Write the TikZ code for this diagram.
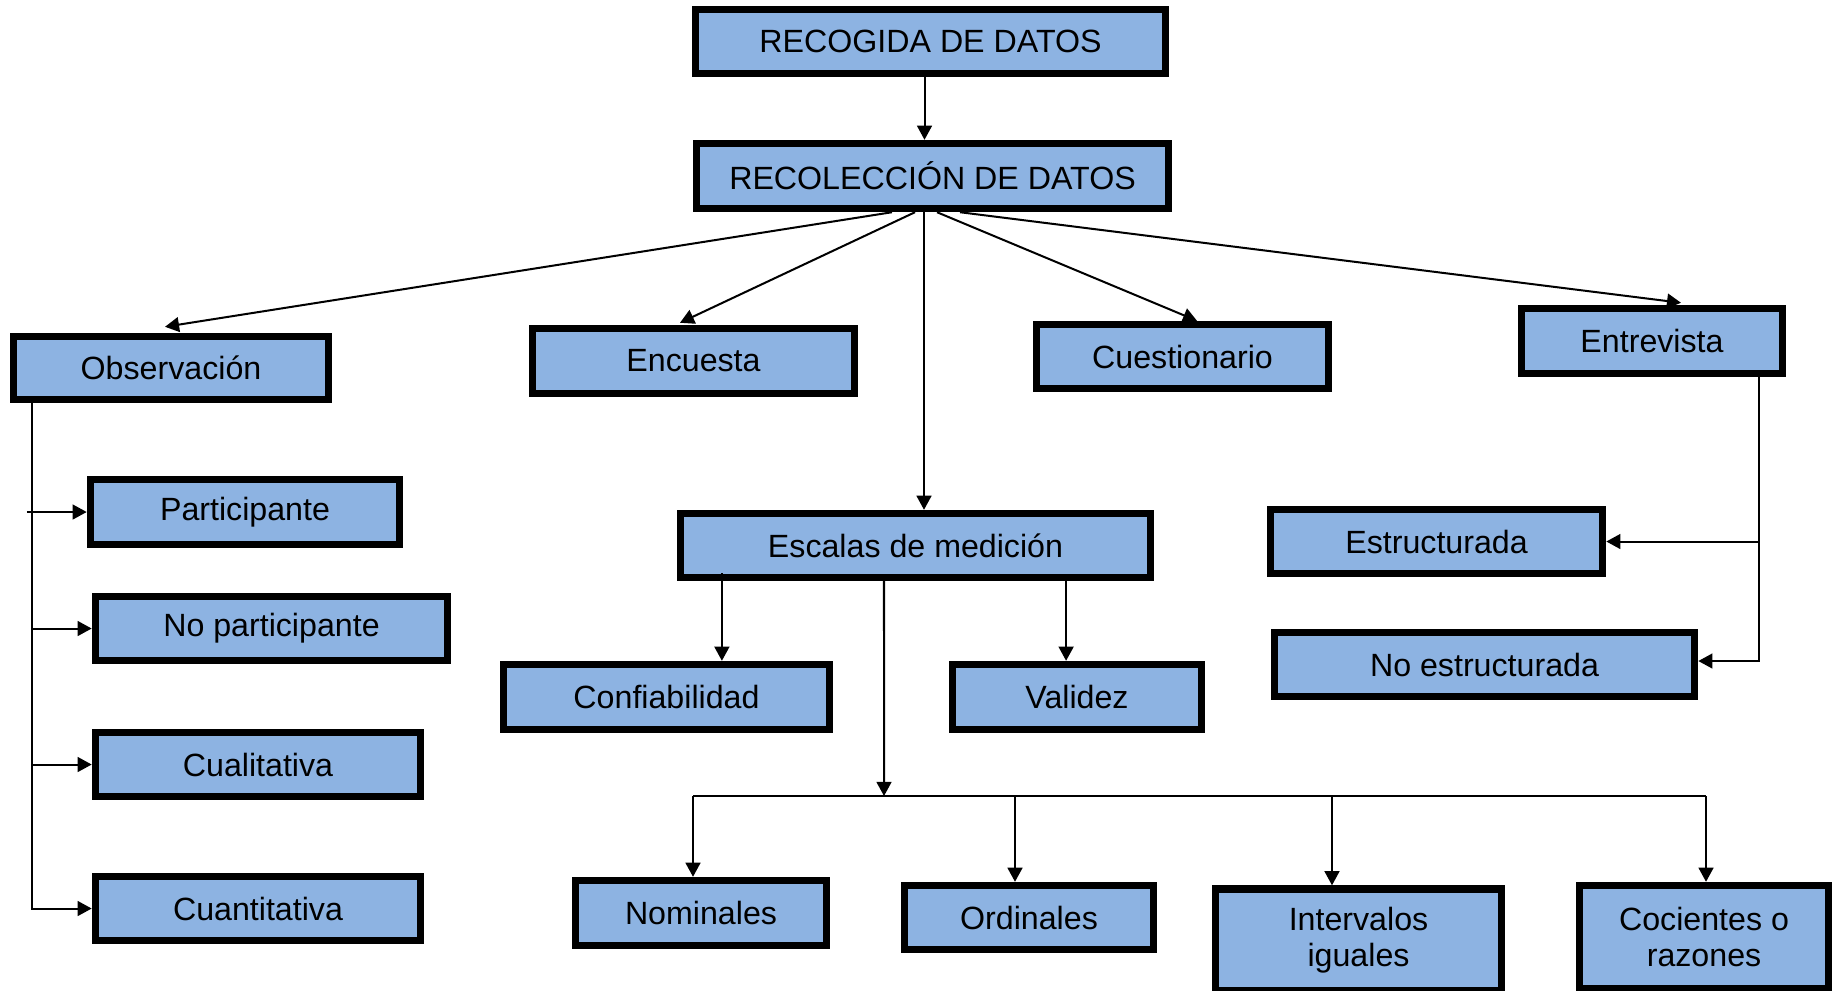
\documentclass[tikz,border=0pt]{standalone}
\usepackage{fontspec}
\setmainfont{Liberation Sans}
\usetikzlibrary{arrows.meta}
\definecolor{boxblue}{RGB}{141,179,226}
\tikzset{
  caja/.style={rectangle, draw=black, line width=2.1pt, fill=boxblue, inner sep=0pt,
    align=center, font=\fontsize{9.15}{10.4}\selectfont},
  flecha/.style={line width=0.57pt, -{Triangle[length=4pt,width=4.2pt]}},
  linea/.style={line width=0.45pt}
}
\begin{document}
\begin{tikzpicture}[x=0.01cm,y=-0.01cm]
\useasboundingbox (0,0) rectangle (1834,990);
% top
\node[caja, minimum width=4.70cm, minimum height=0.64cm] (recogida) at (930.5,41.5){RECOGIDA DE DATOS};
\node[caja, minimum width=4.72cm, minimum height=0.65cm] (recolec) at (932.5,176){RECOLECCIÓN DE DATOS};
% second row
\node[caja, minimum width=3.15cm, minimum height=0.63cm] (obs) at (171,368){Observación};
\node[caja, minimum width=3.22cm, minimum height=0.65cm] (encuesta) at (693.5,361){Encuesta};
\node[caja, minimum width=2.92cm, minimum height=0.64cm] (cuest) at (1182.5,356.5){Cuestionario};
\node[caja, minimum width=2.61cm, minimum height=0.65cm] (entrev) at (1652,341){Entrevista};
% observacion
\node[caja, minimum width=3.09cm, minimum height=0.65cm] (part) at (245,512){Participante};
\node[caja, minimum width=3.52cm, minimum height=0.64cm] (nopart) at (271.5,628.5){No participante};
\node[caja, minimum width=3.25cm, minimum height=0.64cm] (cuali) at (258,764.5){Cualitativa};
\node[caja, minimum width=3.25cm, minimum height=0.64cm] (cuanti) at (258,908.5){Cuantitativa};
% escalas
\node[caja, minimum width=4.70cm, minimum height=0.64cm] (escalas) at (915.5,545.5){Escalas de medición};
\node[caja, minimum width=3.26cm, minimum height=0.65cm] (confiab) at (666.5,697){Confiabilidad};
\node[caja, minimum width=2.49cm, minimum height=0.65cm] (validez) at (1077,697){Validez};
\node[caja, minimum width=2.51cm, minimum height=0.65cm] (nomin) at (701,913){Nominales};
\node[caja, minimum width=2.49cm, minimum height=0.64cm] (ordin) at (1029,917.5){Ordinales};
\node[caja, minimum width=2.86cm, minimum height=1.02cm] (interv) at (1358.5,940){Intervalos\\iguales};
\node[caja, minimum width=2.49cm, minimum height=1.03cm] (cocien) at (1704,937){Cocientes o\\razones};
% entrevista
\node[caja, minimum width=3.32cm, minimum height=0.64cm] (estr) at (1436.5,541.5){Estructurada};
\node[caja, minimum width=4.20cm, minimum height=0.64cm] (noestr) at (1484.5,664.5){No estructurada};
\coordinate (bus) at (884,796);
% connectors
\draw[flecha] ([xshift=-.06cm]recogida.south) -- ([xshift=-.06cm]recogida.south |- recolec.north);
\draw[flecha] ([xshift=-.405cm]recolec.south) -- ([xshift=-.06cm,yshift=.06cm]obs.north);
\draw[flecha] ([xshift=-.175cm]recolec.south) -- ([xshift=-.135cm,yshift=.02cm]encuesta.north);
\draw[flecha] ([xshift=-.085cm]recolec.south) -- ([xshift=-.085cm]recolec.south |- escalas.north);
\draw[flecha] ([xshift=.045cm]recolec.south) -- ([xshift=.145cm]cuest.north);
\draw[flecha] ([xshift=.275cm]recolec.south) -- ([xshift=.29cm,yshift=.02cm]entrev.north);
\draw[flecha] ([xshift=-1.39cm]obs.south) |- (cuanti.west);
\draw[flecha] ([xshift=-1.44cm]obs.south |- part.west) -- (part.west);
\draw[flecha] ([xshift=-1.39cm]obs.south |- nopart.west) -- (nopart.west);
\draw[flecha] ([xshift=-1.39cm]obs.south |- cuali.west) -- (cuali.west);
\draw[flecha] ([xshift=1.07cm]entrev.south) |- ([yshift=.035cm]noestr.east);
\draw[flecha] ([xshift=1.07cm]entrev.south |- estr.east) -- (estr.east);
\draw[flecha] ([xshift=-1.935cm,yshift=.08cm]escalas.south) -- ([xshift=-1.935cm]escalas.south |- confiab.north);
\draw[flecha] ([xshift=1.505cm]escalas.south) -- ([xshift=1.505cm]escalas.south |- validez.north);
\draw[flecha] ([xshift=-.315cm]escalas.south) -- (bus);
\draw[linea] ([xshift=-.08cm]nomin.north |- bus) -- ([xshift=.02cm]cocien.north |- bus);
\draw[flecha] ([xshift=-.08cm]nomin.north |- bus) -- ([xshift=-.08cm]nomin.north);
\draw[flecha] ([xshift=-.14cm]ordin.north |- bus) -- ([xshift=-.14cm]ordin.north);
\draw[flecha] ([xshift=-.265cm]interv.north |- bus) -- ([xshift=-.265cm]interv.north);
\draw[flecha] ([xshift=.02cm]cocien.north |- bus) -- ([xshift=.02cm]cocien.north);
\end{tikzpicture}
\end{document}
